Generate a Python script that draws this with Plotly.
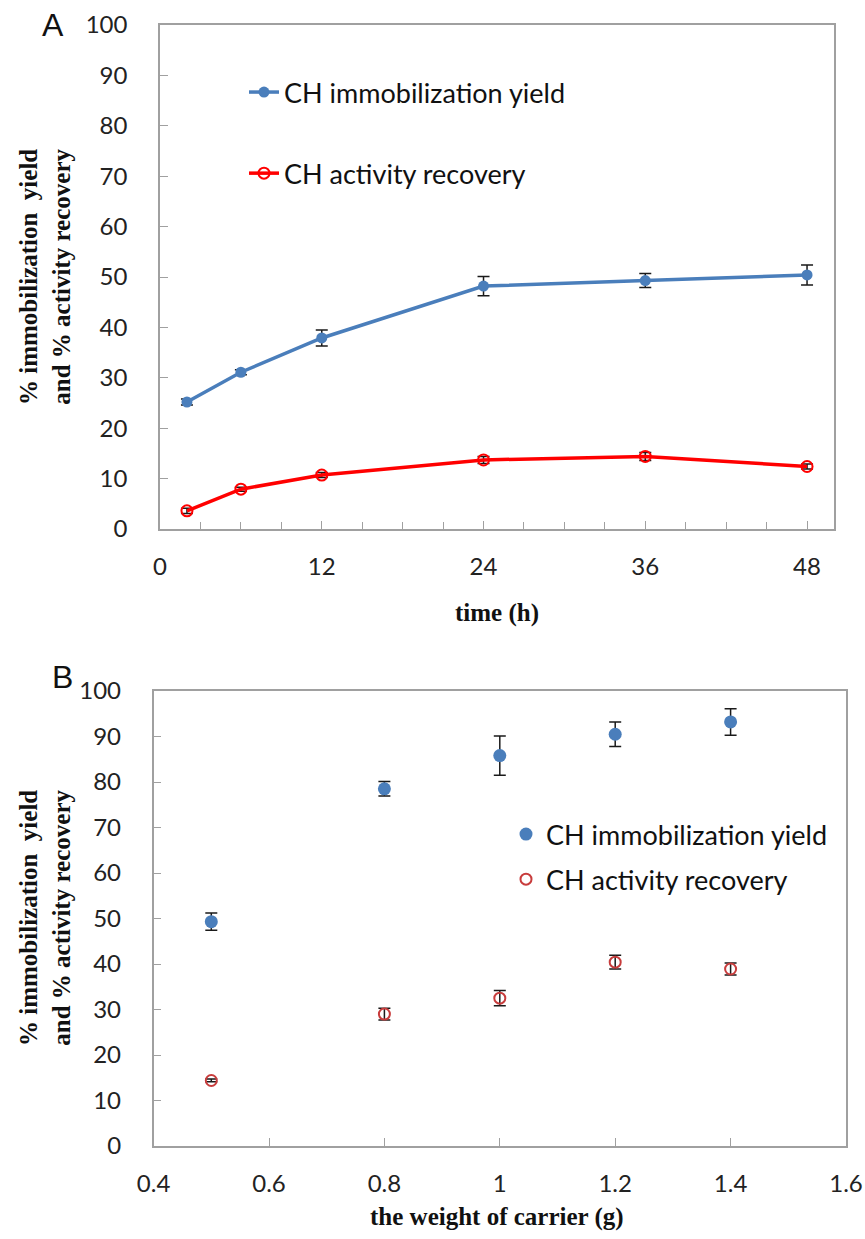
import plotly.graph_objects as go

# ---- Panel A data (time course) ----
time_h = [2, 6, 12, 24, 36, 48]
yield_A = [25.2, 31.1, 37.9, 48.2, 49.3, 50.4]
yield_A_err = [0.6, 0.5, 1.6, 1.9, 1.4, 2.0]
recov_A = [3.6, 7.9, 10.7, 13.7, 14.4, 12.4]
recov_A_err = [0.5, 0.4, 0.5, 0.7, 0.8, 0.5]

# ---- Panel B data (carrier weight) ----
weight_g = [0.5, 0.8, 1.0, 1.2, 1.4]
yield_B = [49.3, 78.5, 85.8, 90.5, 93.2]
yield_B_err = [1.9, 1.6, 4.3, 2.7, 2.9]
recov_B = [14.4, 29.0, 32.5, 40.4, 38.9]
recov_B_err = [0.3, 1.3, 1.7, 1.5, 1.3]

name_yield = "CH immobilization yield"
name_recov = "CH activity recovery"
y_title = "% immobilization  yield<br>and % activity recovery"
xA_title = "time (h)"
xB_title = "the weight of carrier (g)"
xA_ticks = [0, 12, 24, 36, 48]

W, H = 865, 1239
BLUE = "#4A7EBB"
RED = "#FF0000"
RED_B = "#C83C3C"
AXC = "#A0A0A0"
TICKFONT = dict(family="Lato, Open Sans, sans-serif", size=24, color="#222")
LEGFONT = dict(family="Lato, Open Sans, sans-serif", size=27, color="#111")
SERIF = "Liberation Serif, Times New Roman, serif"

def px_x(p):
    return p / W

def px_y(p):
    return 1 - p / H

fig = go.Figure()

err_style = dict(type="data", color="#1a1a1a", thickness=1.5, width=6, visible=True)

fig.add_trace(go.Scatter(
    x=time_h, y=yield_A, name=name_yield, mode="lines+markers",
    line=dict(color=BLUE, width=3.5), marker=dict(color=BLUE, size=11, symbol="circle"),
    error_y=dict(array=yield_A_err, **err_style),
    xaxis="x", yaxis="y", legend="legend", legendgroup="a1"))
fig.add_trace(go.Scatter(
    x=time_h, y=recov_A, name=name_recov, mode="lines+markers",
    line=dict(color=RED, width=3.5),
    marker=dict(color=RED, size=11, symbol="circle-open", line=dict(color=RED, width=2)),
    error_y=dict(array=recov_A_err, **err_style),
    xaxis="x", yaxis="y", legend="legend", legendgroup="a2"))

fig.add_trace(go.Scatter(
    x=weight_g, y=yield_B, name=name_yield, mode="markers",
    marker=dict(color=BLUE, size=13, symbol="circle"),
    error_y=dict(array=yield_B_err, **err_style),
    xaxis="x2", yaxis="y2", legend="legend2", legendgroup="b1"))
fig.add_trace(go.Scatter(
    x=weight_g, y=recov_B, name=name_recov, mode="markers",
    marker=dict(size=11, symbol="circle-open", color=RED_B, line=dict(color=RED_B, width=2)),
    error_y=dict(array=recov_B_err, **err_style),
    xaxis="x2", yaxis="y2", legend="legend2", legendgroup="b2"))

axis_common = dict(showline=True, linecolor=AXC, linewidth=1.5, mirror=True,
                   ticks="inside", tickcolor=AXC, tickwidth=1.2, ticklen=8,
                   showgrid=False, zeroline=False, tickfont=TICKFONT, automargin=False)

fig.update_layout(
    width=W, height=H, margin=dict(l=0, r=0, t=0, b=0, autoexpand=False),
    paper_bgcolor="white", plot_bgcolor="white",
    xaxis=dict(domain=[px_x(160), px_x(834)], range=[0, 50], tickvals=xA_ticks,
               minor=dict(dtick=3, tick0=0, ticks="inside", ticklen=7, tickcolor=AXC, tickwidth=1.2),
               ticklabelstandoff=15, anchor="y", **axis_common),
    yaxis=dict(domain=[px_y(529), px_y(25)], range=[0, 100], dtick=10,
               ticklabelstandoff=26, anchor="x", **axis_common),
    xaxis2=dict(domain=[px_x(153.6), px_x(846)], range=[0.4, 1.6], dtick=0.2, tick0=0.4,
                ticklabelstandoff=15, anchor="y2", **axis_common),
    yaxis2=dict(domain=[px_y(1146), px_y(691)], range=[0, 100], dtick=10,
                ticklabelstandoff=26, anchor="x2", **axis_common),
    legend=dict(x=px_x(244), y=px_y(68), xanchor="left", yanchor="top",
                font=LEGFONT, tracegroupgap=43, bgcolor="rgba(0,0,0,0)"),
    legend2=dict(x=px_x(506), y=px_y(810), xanchor="left", yanchor="top",
                 font=LEGFONT, tracegroupgap=7, bgcolor="rgba(0,0,0,0)"),
    showlegend=True,
)

ann_common = dict(xref="paper", yref="paper", showarrow=False, xanchor="center", yanchor="middle")
annotations = [
    dict(text="A", x=px_x(53), y=px_y(25),
         font=dict(family="Liberation Sans, Arial, sans-serif", size=32, color="#111"), **ann_common),
    dict(text="B", x=px_x(62), y=px_y(677),
         font=dict(family="Liberation Sans, Arial, sans-serif", size=32, color="#111"), **ann_common),
    dict(text="<b>" + y_title + "</b>", x=px_x(45), y=px_y(277), textangle=-90,
         font=dict(family=SERIF, size=25, color="#111"), **ann_common),
    dict(text="<b>" + y_title + "</b>", x=px_x(45), y=px_y(918), textangle=-90,
         font=dict(family=SERIF, size=25, color="#111"), **ann_common),
    dict(text="<b>" + xA_title + "</b>", x=px_x(497), y=px_y(613),
         font=dict(family=SERIF, size=25, color="#111"), **ann_common),
    dict(text="<b>" + xB_title + "</b>", x=px_x(497), y=px_y(1217),
         font=dict(family=SERIF, size=25, color="#111"), **ann_common),
]
fig.update_layout(annotations=annotations)

fig.write_html("out.html", config={"displayModeBar": False},
               post_script="document.body.style.margin='0';document.body.style.overflow='hidden';")
